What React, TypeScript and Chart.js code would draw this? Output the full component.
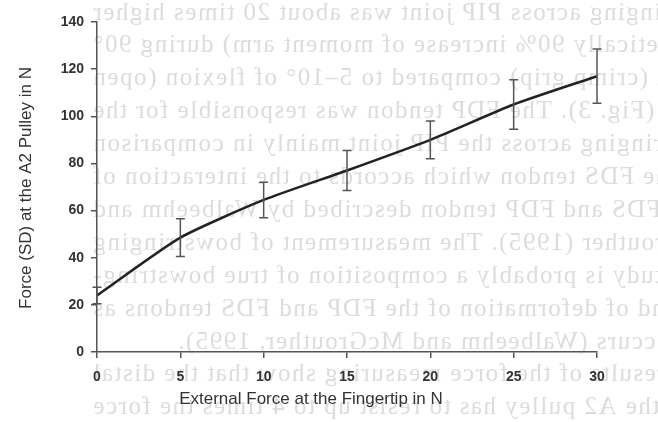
import React, { useEffect, useRef } from "react";
import { Chart, registerables } from "chart.js";

Chart.register(...registerables);

// ---- data ----
const externalForce = [0, 5, 10, 15, 20, 25, 30];
const meanPulleyForce = [24, 48.5, 64.5, 77, 90, 105, 117];
const sdPulleyForce = [3.5, 8, 7.5, 8.5, 8, 10.5, 11.5];

const xAxisTitle = "External Force at the Fingertip in N";
const yAxisTitle = "Force (SD) at the A2 Pulley in N";

// faint bleed-through text from the reverse side of the scanned page (mirrored)
const bleedLines = [
  "stringing across PIP joint was about 20 times higher",
  "theoretically 90% increase of moment arm) during 90°",
  "of flexion (crimp grip) compared to 5–10° of flexion (open",
  "grip) (Fig. 3). The FDP tendon was responsible for the",
  "bowstringing across the PIP joint mainly in comparison",
  "to the FDS tendon which accords to the interaction of",
  "the FDS and FDP tendon described by Walbeehm and",
  "McGrouther (1995). The measurement of bowstringing",
  "in this study is probably a composition of true bowstring-",
  "ing and of deformation of the FDP and FDS tendons as",
  "tension occurs (Walbeehm and McGrouther, 1995).",
  "The results of the force measuring show that the distal",
  "edge of the A2 pulley has to resist up to 4 times the force",
];
const paragraphEndLine = 10;

const W = 658;
const H = 422;

const backgroundPlugin = {
  id: "scanBackground",
  beforeDraw(chart: any) {
    const ctx = chart.ctx;
    ctx.save();
    ctx.fillStyle = "#ffffff";
    ctx.fillRect(0, 0, W, H);
    ctx.translate(W, 0);
    ctx.scale(-1, 1);
    ctx.fillStyle = "#dcdcdc";
    ctx.font = '25px "Liberation Serif"';
    try {
      (ctx as any).letterSpacing = "1.5px";
    } catch (e) {}
    ctx.textBaseline = "middle";
    bleedLines.forEach((line, i) => {
      const y = 13 + i * 32.9;
      if (i === paragraphEndLine) {
        ctx.textAlign = "left";
        ctx.fillText(line, W - 760, y);
      } else {
        ctx.textAlign = "right";
        ctx.fillText(line, W - 92, y);
      }
    });
    ctx.restore();
  },
};

const errorBarPlugin = {
  id: "errorBars",
  afterDatasetsDraw(chart: any) {
    const ctx = chart.ctx;
    const xs = chart.scales.x;
    const ys = chart.scales.y;
    ctx.save();
    ctx.strokeStyle = "#555555";
    ctx.lineWidth = 1.5;
    externalForce.forEach((xv, i) => {
      const px = xs.getPixelForValue(xv);
      const top = ys.getPixelForValue(meanPulleyForce[i] + sdPulleyForce[i]);
      const bot = ys.getPixelForValue(meanPulleyForce[i] - sdPulleyForce[i]);
      const cap = 4.5;
      ctx.beginPath();
      ctx.moveTo(px, top);
      ctx.lineTo(px, bot);
      ctx.moveTo(px - cap, top);
      ctx.lineTo(px + cap, top);
      ctx.moveTo(px - cap, bot);
      ctx.lineTo(px + cap, bot);
      ctx.stroke();
    });
    ctx.restore();
  },
};

const titlePlugin = {
  id: "axisTitles",
  afterDraw(chart: any) {
    const ctx = chart.ctx;
    ctx.save();
    ctx.fillStyle = "#333333";
    ctx.font = '17px "Liberation Sans"';
    ctx.textAlign = "center";
    ctx.textBaseline = "middle";
    ctx.fillText(xAxisTitle, 311, 399);
    ctx.translate(26, 188);
    ctx.rotate(-Math.PI / 2);
    ctx.fillText(yAxisTitle, 0, 0);
    ctx.restore();
  },
};

export default function App() {
  const ref = useRef<HTMLCanvasElement | null>(null);

  useEffect(() => {
    document.body.style.margin = "0";
    const canvas = ref.current;
    if (!canvas) return;
    const tickFont = { family: "Liberation Sans", size: 14, weight: "bold" as const };
    const chart = new Chart(canvas, {
      type: "line",
      data: {
        datasets: [
          {
            data: externalForce.map((x, i) => ({ x, y: meanPulleyForce[i] })),
            borderColor: "#222222",
            borderWidth: 2.5,
            pointRadius: 0,
            tension: 0.2,
            fill: false,
            clip: false as any,
          },
        ],
      },
      options: {
        responsive: false,
        maintainAspectRatio: false,
        animation: false,
        layout: { padding: { top: 22, right: 61, left: 0, bottom: 0 } },
        plugins: {
          legend: { display: false },
          tooltip: { enabled: false },
          title: { display: false },
        },
        scales: {
          x: {
            type: "linear",
            min: 0,
            max: 30,
            ticks: { stepSize: 5, font: tickFont, color: "#333333", padding: 11 },
            grid: { drawOnChartArea: false, color: "#555555", tickLength: 6, lineWidth: 1.5 },
            border: { display: true, color: "#555555", width: 1.5 },
            afterFit(scale: any) {
              scale.height = 70;
            },
          },
          y: {
            type: "linear",
            min: 0,
            max: 140,
            ticks: { stepSize: 20, font: tickFont, color: "#333333", padding: 7 },
            grid: { drawOnChartArea: false, color: "#555555", tickLength: 6, lineWidth: 1.5 },
            border: { display: true, color: "#555555", width: 1.5 },
            afterFit(scale: any) {
              scale.width = 97;
            },
          },
        },
      },
      plugins: [backgroundPlugin, errorBarPlugin, titlePlugin],
    });
    return () => chart.destroy();
  }, []);

  return (
    <div style={{ position: "absolute", left: 0, top: 0, width: W, height: H }}>
      <canvas ref={ref} width={W} height={H} style={{ width: W, height: H, display: "block" }} />
    </div>
  );
}
